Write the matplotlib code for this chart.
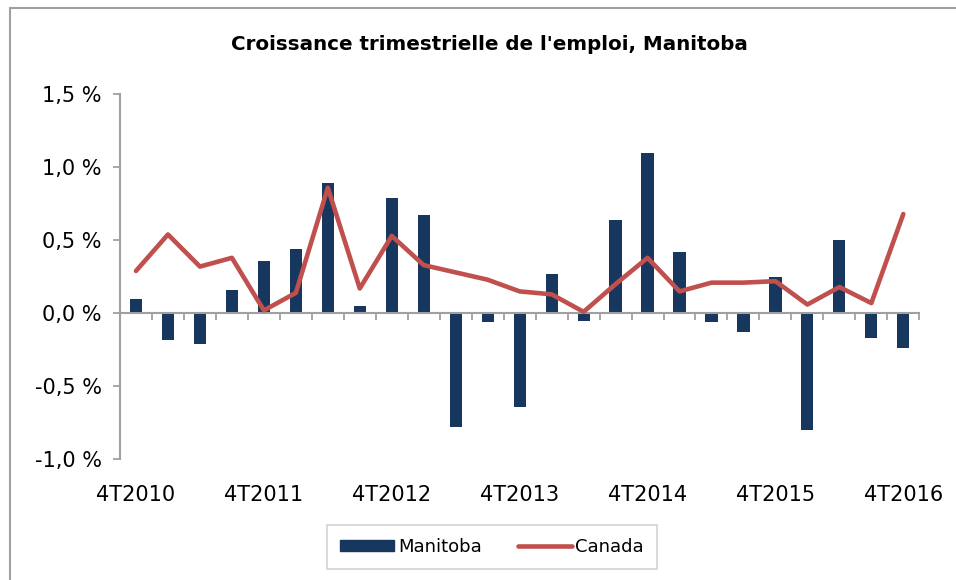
import matplotlib
matplotlib.use("Agg")
import matplotlib.pyplot as plt
import numpy as np
from matplotlib.patches import Rectangle
from matplotlib.lines import Line2D
from matplotlib.patches import Patch

quarters = ["4T2010", "1T2011", "2T2011", "3T2011",
            "4T2011", "1T2012", "2T2012", "3T2012",
            "4T2012", "1T2013", "2T2013", "3T2013",
            "4T2013", "1T2014", "2T2014", "3T2014",
            "4T2014", "1T2015", "2T2015", "3T2015",
            "4T2015", "1T2016", "2T2016", "3T2016",
            "4T2016"]
manitoba = [0.10, -0.18, -0.21, 0.16, 0.36, 0.44, 0.89, 0.05,
            0.79, 0.67, -0.78, -0.06, -0.64, 0.27, -0.05, 0.64,
            1.10, 0.42, -0.06, -0.13, 0.25, -0.80, 0.50, -0.17,
            -0.24]
canada = [0.29, 0.54, 0.32, 0.38, 0.02, 0.14, 0.86, 0.17,
          0.53, 0.33, 0.28, 0.23, 0.15, 0.13, 0.01, 0.20,
          0.38, 0.15, 0.21, 0.21, 0.22, 0.06, 0.18, 0.07,
          0.68]
yticks = [-1.0, -0.5, 0.0, 0.5, 1.0, 1.5]
title = "Croissance trimestrielle de l'emploi, Manitoba"

navy = "#17375E"
red = "#C0504D"
grey = "#A0A0A0"

plt.rcParams['font.family'] = ['DejaVu Sans']

fig = plt.figure(figsize=(9.56, 5.8), dpi=100)
ax = fig.add_axes([120/956, 1-459.3/580, 799.3/956, 365/580])

x = np.arange(len(quarters))
ax.bar(x, manitoba, width=0.38, color=navy, zorder=2, label="Manitoba")
ax.plot(x, canada, color=red, lw=3.3, solid_capstyle='round',
        solid_joinstyle='round', zorder=3, label="Canada")

ax.set_xlim(-0.5, len(quarters) - 0.5)
ax.set_ylim(-1.0, 1.5)
ax.set_yticks(yticks)
ax.set_yticklabels([f"{v:.1f} %".replace(".", ",") for v in yticks], fontsize=15)

for s in ["top", "right"]:
    ax.spines[s].set_visible(False)
ax.spines["left"].set_color(grey)
ax.spines["left"].set_linewidth(1.5)
ax.spines["bottom"].set_position(("data", 0))
ax.spines["bottom"].set_color(grey)
ax.spines["bottom"].set_linewidth(1.5)
ax.set_xticks(np.arange(-0.5, len(quarters), 1.0))
ax.set_xticklabels([])
ax.tick_params(axis="x", direction="out", length=5, width=1.3, color=grey)
ax.tick_params(axis="y", direction="out", length=5, width=1.3, color=grey, pad=8)

trans = matplotlib.transforms.blended_transform_factory(ax.transData, ax.transAxes)
for i, q in enumerate(quarters):
    if i % 4 == 0:
        ax.text(i, -0.098, q, transform=trans, ha="center", va="center", fontsize=15)

fig.text(489/956, 1-45/580, title, ha="center", va="center",
         fontsize=14.3, fontweight="bold")

handles = [Patch(facecolor=navy, edgecolor=navy),
           Line2D([0], [0], color=red, lw=3.3, solid_capstyle='round')]
leg = fig.legend(handles, ["Manitoba", "Canada"], loc="center",
                 bbox_to_anchor=(492/956, 1-547/580), ncol=2, fontsize=13,
                 frameon=True, fancybox=False, edgecolor="#C8C8C8",
                 handlelength=3.0, handleheight=0.6, handletextpad=0.2,
                 columnspacing=2.0, borderpad=0.7, borderaxespad=0)
leg.get_frame().set_linewidth(1.2)

fig.patches.append(Rectangle((10/956, -0.1), 1.2, (1 - 8/580) + 0.1,
                             transform=fig.transFigure, fill=False,
                             edgecolor=grey, linewidth=1.5))

fig.savefig("out.png", dpi=100)
